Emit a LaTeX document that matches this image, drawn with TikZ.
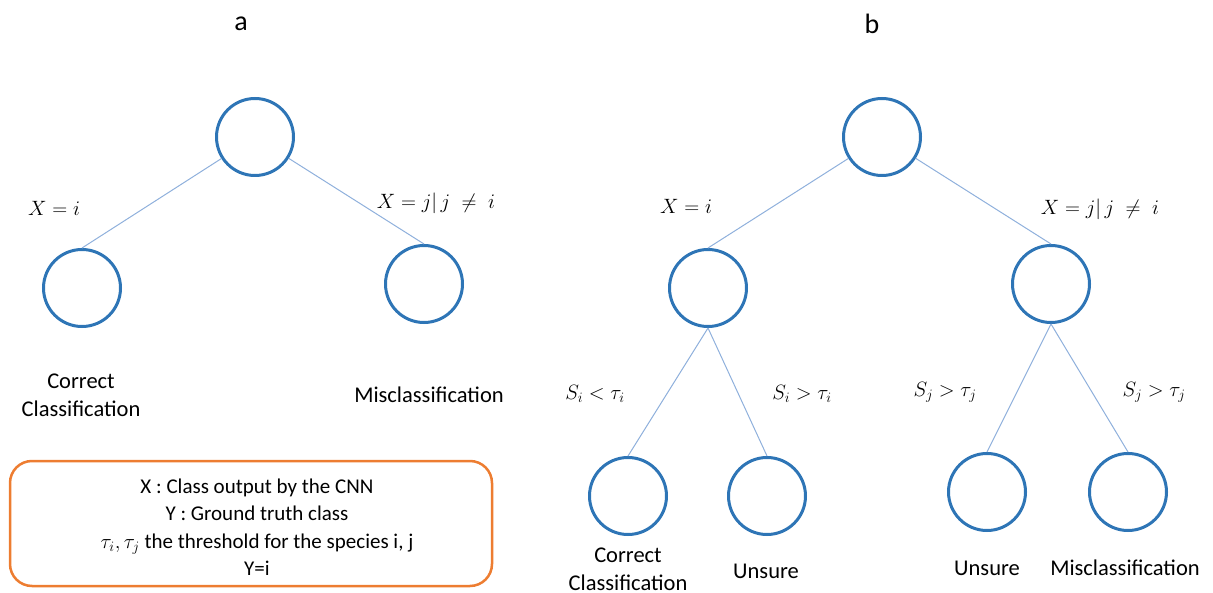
\documentclass[tikz,border=0pt]{standalone}
\usepackage{fontspec}
\setmainfont{Carlito}
\definecolor{cblue}{HTML}{2E75B6}
\definecolor{eblue}{HTML}{8FB0DC}
\definecolor{borange}{HTML}{ED7D31}
\begin{document}
\begin{tikzpicture}[x=1pt,y=-1pt,
  nd/.style={circle,draw=cblue,line width=3pt,minimum size=77pt,inner sep=0pt},
  edge/.style={draw=eblue,line width=1pt},
  lbl/.style={font=\fontsize{22.5}{28}\selectfont,align=center,inner sep=0pt},
  mlbl/.style={font=\fontsize{22}{26}\selectfont,inner sep=0pt},
  ttl/.style={font=\fontsize{28}{32}\selectfont,inner sep=0pt}]
\useasboundingbox (0,0) rectangle (1213,593);

% titles
\node[ttl] (ta) at (241,24) {a};
\node[ttl] (tb) at (872,24) {b};

% panel a
\node[nd] (ra) at (255,137) {};
\node[nd] (la) at (82,288) {};
\node[nd] (rra) at (424,284) {};
\draw[edge] (ra) -- (la.north);
\draw[edge] (ra) -- (rra.north);
\node[mlbl] (xa1) at (54,208) {$X = i$};
\node[mlbl] (xa2) at (436,203) {$X = j|\,j\;\neq\; i$};
\node[lbl] (cca) at (81,395) {Correct\\Classification};
\node[lbl] (mca) at (429,395) {Misclassification};

% legend
\node[draw=borange,line width=2.5pt,rounded corners=22pt,minimum width=482pt,minimum height=125pt,inner sep=0pt] (leg) at (251,523.5) {};
\node[font=\fontsize{21}{27.5}\selectfont,align=center,inner sep=0pt] (legtxt) at (257,527) {X : Class output by the CNN\\Y : Ground truth class\\$\tau_i,\tau_j$ the threshold for the species i, j\\Y=i};

% panel b
\node[nd] (rb) at (882,137) {};
\node[nd] (lb) at (708,288) {};
\node[nd] (rrb) at (1051,284) {};
\node[nd] (b1) at (628,496) {};
\node[nd] (b2) at (767,496) {};
\node[nd] (b3) at (987,492) {};
\node[nd] (b4) at (1128,492) {};
\draw[edge] (rb) -- (lb.north);
\draw[edge] (rb) -- (rrb.north);
\draw[edge] (lb.south) -- (b1.north);
\draw[edge] (lb.south) -- (b2.north);
\draw[edge] (rrb.south) -- (b3.north);
\draw[edge] (rrb.south) -- (b4.north);
\node[mlbl] (xb1) at (686,206) {$X = i$};
\node[mlbl] (xb2) at (1100,209) {$X = j|\,j\;\neq\; i$};
\node[mlbl] (s1) at (595,394) {$S_i < \tau_i$};
\node[mlbl] (s2) at (802,394) {$S_i > \tau_i$};
\node[mlbl] (s3) at (945,392) {$S_j > \tau_j$};
\node[mlbl] (s4) at (1154,392) {$S_j > \tau_j$};
\node[lbl] (ccb) at (628,569) {Correct\\Classification};
\node[lbl] (ub1) at (766,571) {Unsure};
\node[lbl] (ub2) at (987,568) {Unsure};
\node[lbl] (mcb) at (1125,568) {Misclassification};
\end{tikzpicture}
\end{document}
